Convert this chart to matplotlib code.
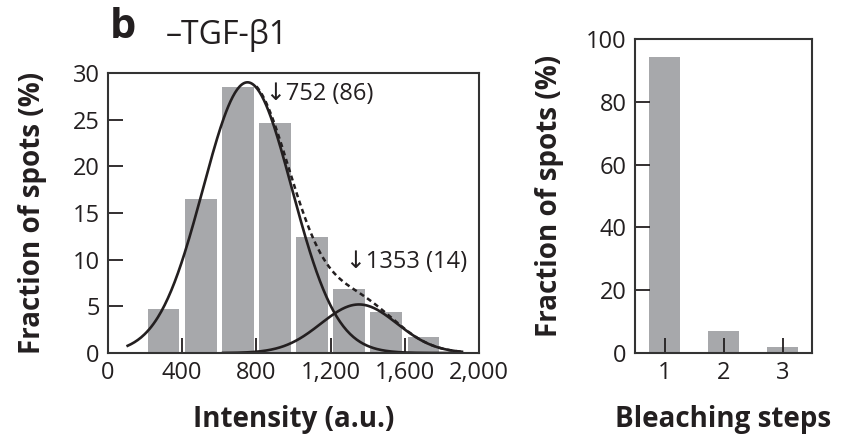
import numpy as np
import matplotlib
matplotlib.use("Agg")
import matplotlib.pyplot as plt

plt.rcParams['font.family'] = ['Open Sans', 'DejaVu Sans']

# --- data ---
# intensity histogram (bin centres, % of spots)
bin_centers = [300, 500, 700, 900, 1100, 1300, 1500, 1700]
bin_fraction = [4.7, 16.5, 28.5, 24.6, 12.4, 6.9, 4.4, 1.7]

# fitted gaussian components: mean, peak height, sigma, start/end of drawn curve
fit_means = [752, 1353]
fit_weights = [86, 14]
fit_peaks = [29.0, 5.2]
fit_sigmas = [240, 205]
fit_starts = [106, 620]
fit_end = 1908

# bleaching steps
steps = [1, 2, 3]
step_fraction = [94.2, 7.1, 1.8]

xticks_left = [0, 400, 800, 1200, 1600, 2000]
xticklabels_left = ['0', '400', '800', '1,200', '1,600', '2,000']

ink = '#231f20'
bar_col = '#a7a8ab'

fig = plt.figure(figsize=(8.43, 4.36), dpi=100)
axL = fig.add_axes([0.1281, 0.1904, 0.4401, 0.6422])
axR = fig.add_axes([0.7533, 0.1904, 0.2100, 0.7202])

# left: histogram + fits
axL.bar(bin_centers, bin_fraction, width=170, color=bar_col, zorder=1)


def gauss(x, mu, a, s):
    return a * np.exp(-(x - mu) ** 2 / (2 * s ** 2))


xs = np.linspace(800, fit_end, 300)
total = gauss(xs, fit_means[0], fit_peaks[0], fit_sigmas[0]) + gauss(xs, fit_means[1], fit_peaks[1], fit_sigmas[1])
axL.plot(xs, total, color=ink, lw=1.8, ls=(0, (2.0, 1.5)), zorder=2)
for i in range(2):
    xg = np.linspace(fit_starts[i], fit_end, 300)
    axL.plot(xg, gauss(xg, fit_means[i], fit_peaks[i], fit_sigmas[i]), color=ink, lw=1.9, zorder=3)

axL.text(850, 27.8, '\u2193%d (%d)' % (fit_means[0], fit_weights[0]), fontsize=17, color=ink,
         ha='left', va='center')
axL.text(1285, 9.8, '\u2193%d (%d)' % (fit_means[1], fit_weights[1]), fontsize=17, color=ink,
         ha='left', va='center')

axL.set_xlim(0, 2000)
axL.set_ylim(0, 30)
axL.set_xticks(xticks_left)
axL.set_xticklabels(xticklabels_left)
axL.set_yticks(range(0, 31, 5))
axL.set_xlabel('Intensity (a.u.)', fontsize=20, fontweight='bold', color=ink, va='baseline')
axL.xaxis.set_label_coords(0.5, -0.264)
axL.set_ylabel('Fraction of spots (%)', fontsize=20, fontweight='bold', color=ink)
axL.yaxis.set_label_coords(-0.165, 0.5)

# right: bleaching steps
axR.bar(steps, step_fraction, width=0.53, color=bar_col)
axR.set_xlim(0.5, 3.5)
axR.set_ylim(0, 100)
axR.set_xticks(steps)
axR.set_yticks(range(0, 101, 20))
axR.set_xlabel('Bleaching steps', fontsize=20, fontweight='bold', color=ink, va='baseline')
axR.xaxis.set_label_coords(0.5, -0.236)
axR.set_ylabel('Fraction of spots (%)', fontsize=20, fontweight='bold', color=ink)
axR.yaxis.set_label_coords(-0.40, 0.5)

for ax in (axL, axR):
    ax.tick_params(direction='in', length=11, width=1.3, color=ink, labelcolor=ink,
                   labelsize=17, pad=6, top=False, right=False)
    for sp in ax.spines.values():
        sp.set_linewidth(1.5)
        sp.set_color('#333333')
        sp.set_zorder(5)

fig.text(110 / 843, 1 - 38 / 436, 'b', fontsize=30, fontweight='bold', color=ink, va='baseline')
fig.text(166 / 843, 1 - 44 / 436, '\u2013TGF-\u03b21', fontsize=23, color=ink, va='baseline')

fig.savefig('out.png', dpi=100)
